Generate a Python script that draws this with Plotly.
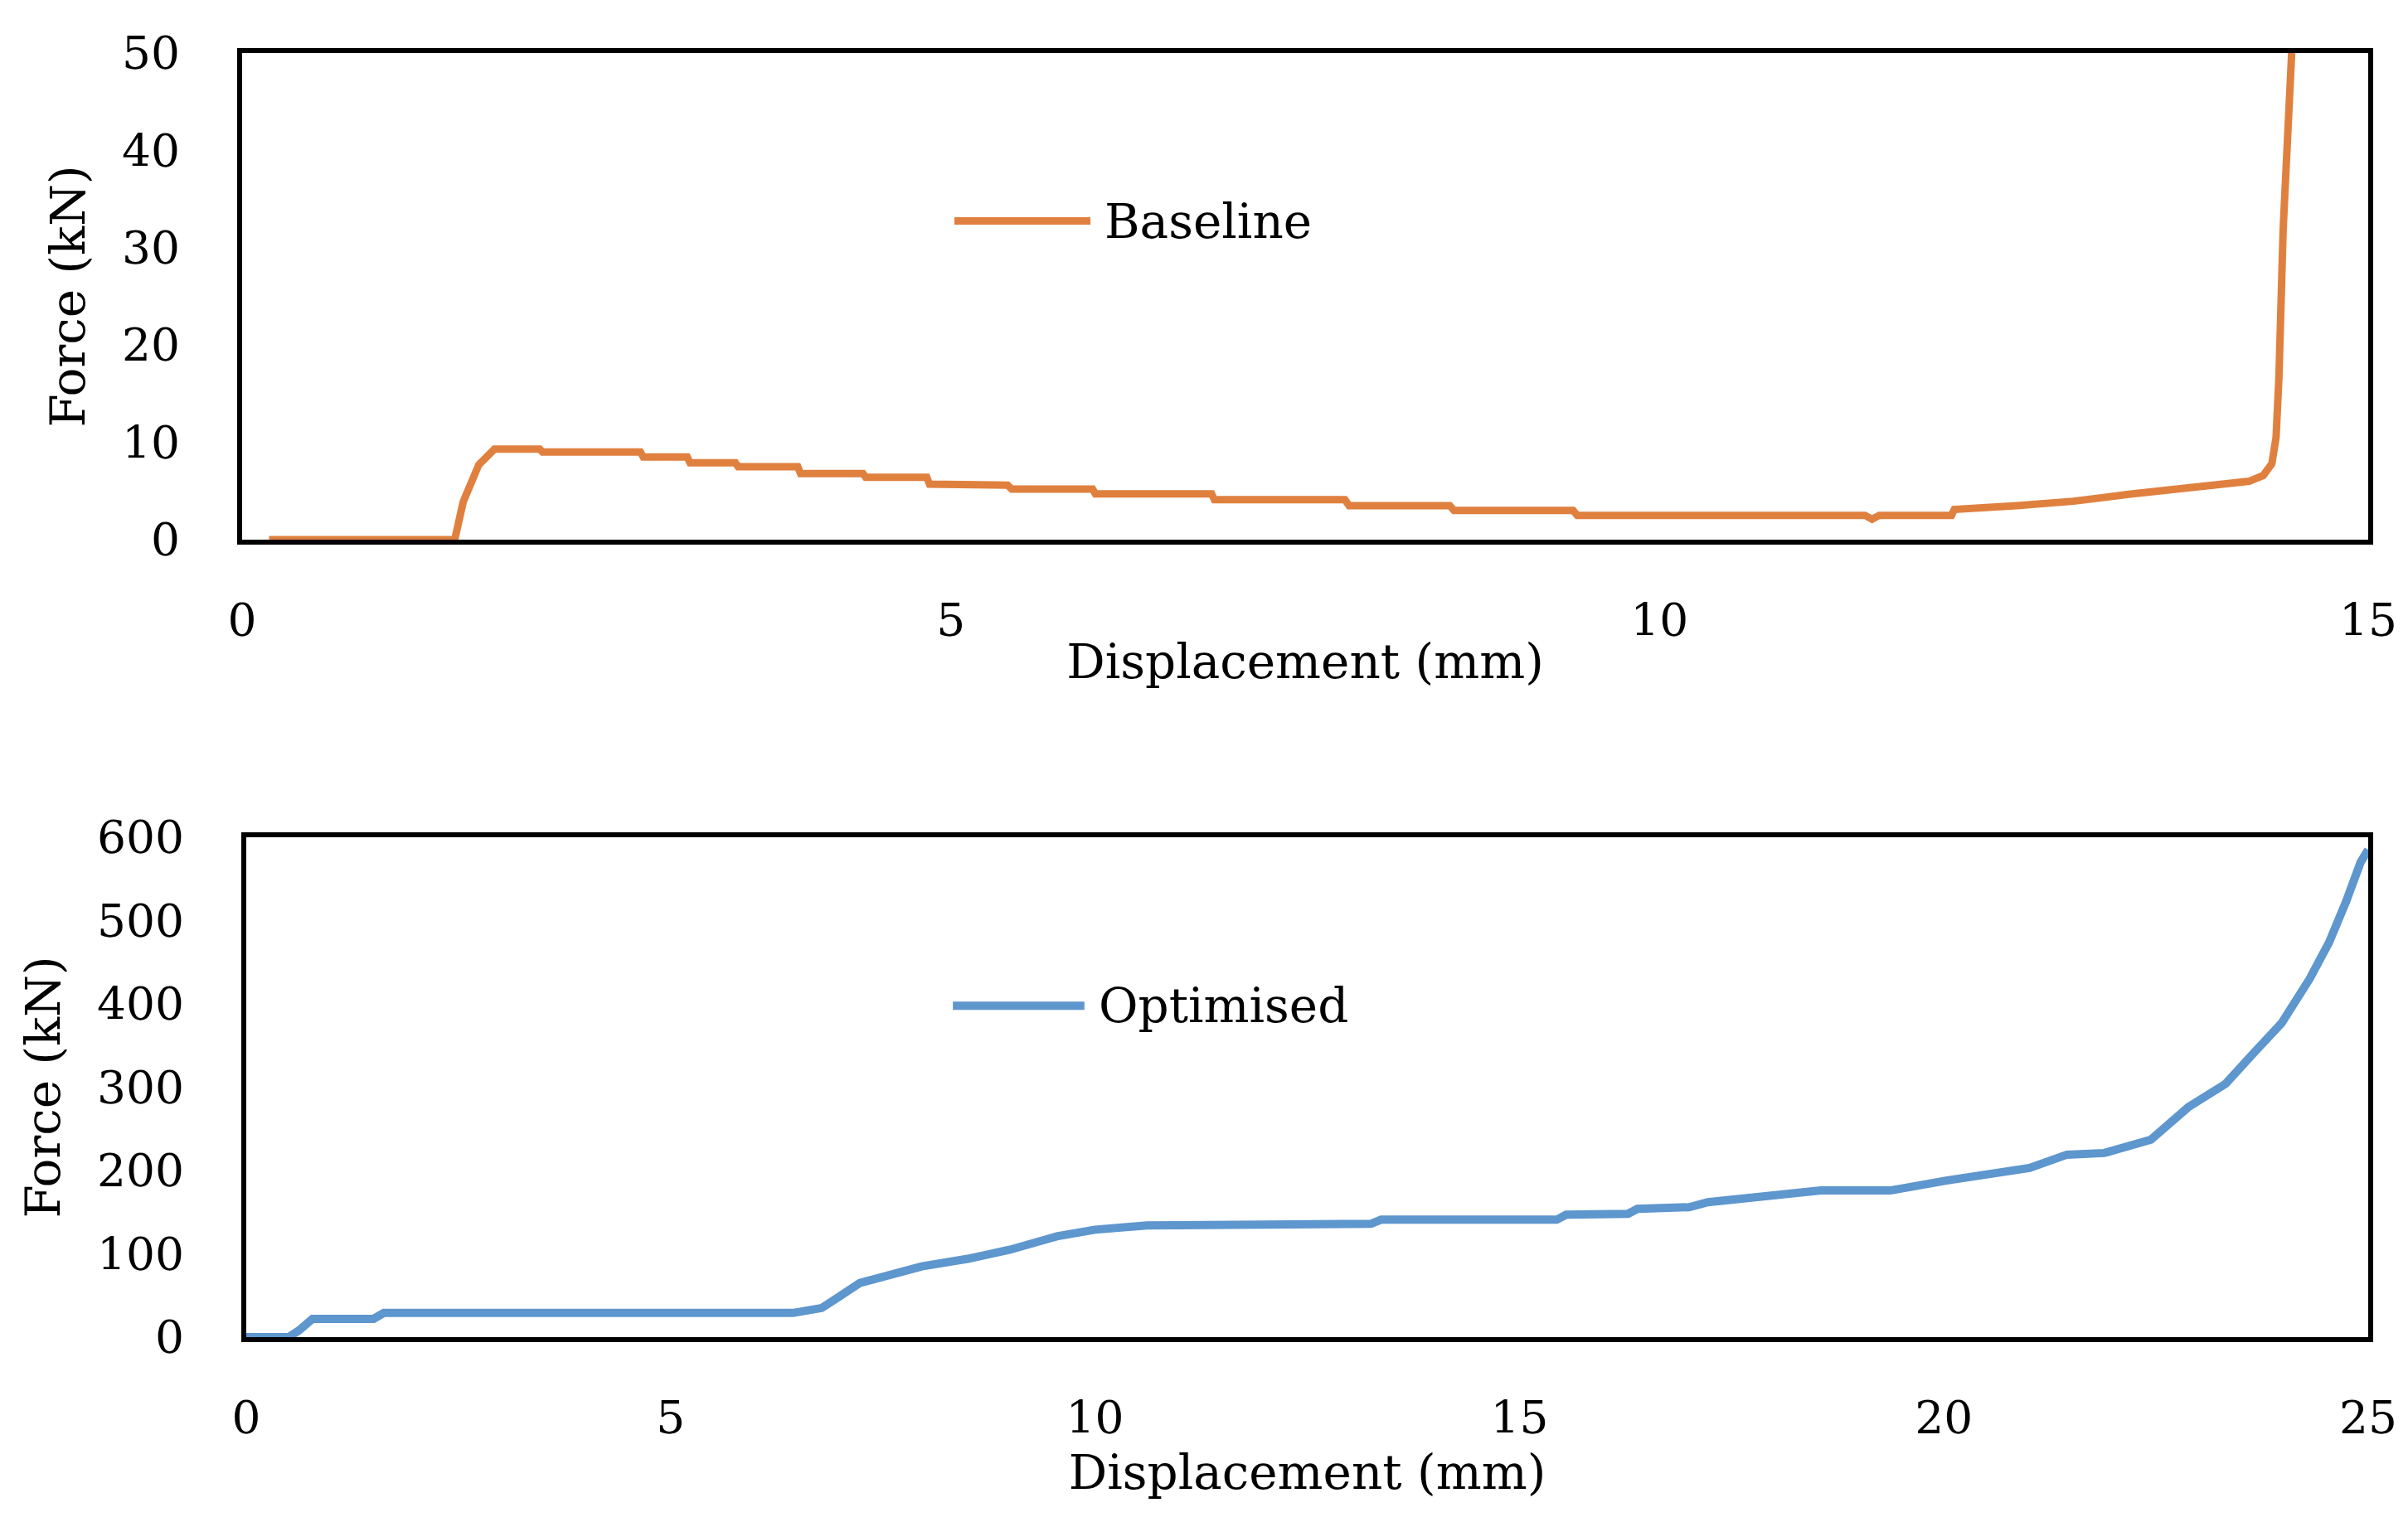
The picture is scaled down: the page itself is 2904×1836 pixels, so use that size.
import plotly.graph_objects as go

# ---- data ----
baseline_x = [0.19, 1.50, 1.56, 1.67, 1.78, 2.10, 2.12, 2.81, 2.83, 3.14, 3.16, 3.48, 3.50, 3.92,
              3.94, 4.38, 4.40, 4.83, 4.85, 5.40, 5.43, 6.00, 6.02, 6.84, 6.86, 7.78, 7.81, 8.52,
              8.55, 9.39, 9.42, 11.45, 11.50, 11.55, 12.06, 12.08, 12.52, 12.92, 13.31, 13.73,
              14.16, 14.26, 14.32, 14.35, 14.37, 14.40, 14.44, 14.46]
baseline_y = [0.0, 0.0, 3.9, 7.7, 9.3, 9.3, 9.0, 9.0, 8.5, 8.5, 7.9, 7.9, 7.5, 7.5,
              6.8, 6.8, 6.4, 6.4, 5.7, 5.6, 5.2, 5.2, 4.7, 4.7, 4.1, 4.1, 3.5, 3.5,
              3.0, 3.0, 2.5, 2.5, 2.1, 2.5, 2.5, 3.1, 3.5, 3.95, 4.66, 5.37,
              6.0, 6.6, 7.8, 10.5, 16.6, 31.9, 45.0, 50.0]

optimised_x = [0.0, 0.50, 0.62, 0.78, 1.50, 1.62, 6.44, 6.78, 7.23, 7.96, 8.50, 9.00, 9.55, 10.00,
               10.61, 13.25, 13.37, 15.44, 15.55, 16.28, 16.39, 16.74, 17.00, 17.22, 17.56, 18.55,
               19.37, 20.03, 21.01, 21.45, 21.89, 22.44, 22.88, 23.32, 23.65, 23.98, 24.31, 24.54,
               24.74, 24.91, 25.00]
optimised_y = [0, 0, 8, 22, 22, 29, 29, 35, 65, 85, 94, 105, 121, 129,
               134, 136, 141, 141, 147, 148, 154, 154, 156, 162, 166, 176,
               176, 188, 203, 219, 221, 237, 276, 304, 341, 377, 430, 474,
               523, 570, 585]

series_names = ["Baseline", "Optimised"]
x_title = "Displacement (mm)"
y_title = "Force (kN)"

orange = "#E0803F"
blue = "#5E96CE"
FONT = "DejaVu Serif"

fig = go.Figure()
fig.add_trace(go.Scatter(x=baseline_x, y=baseline_y, mode="lines", name=series_names[0],
                         line=dict(color=orange, width=9), xaxis="x", yaxis="y",
                         showlegend=False, cliponaxis=True))
fig.add_trace(go.Scatter(x=optimised_x, y=optimised_y, mode="lines", name=series_names[1],
                         line=dict(color=blue, width=10), xaxis="x2", yaxis="y2",
                         showlegend=False, cliponaxis=True))

W, H = 2904, 1836
# plot frames (pixels)
top_box = dict(l=284, r=2848, t=56, b=643)
bot_box = dict(l=289, r=2848, t=1002, b=1605)

def xdom(b):
    return [b["l"] / W, b["r"] / W]

def ydom(b):
    return [1 - b["b"] / H, 1 - b["t"] / H]

tickfont = dict(family=FONT, size=55, color="black")
titlefont = dict(family=FONT, size=58, color="black")

common_axis = dict(showline=True, linecolor="black", linewidth=6, mirror=True,
                   showgrid=False, zeroline=False, ticks="", tickfont=tickfont,
                   automargin=False)

fig.update_layout(
    template="none",
    width=W, height=H,
    margin=dict(l=0, r=0, t=0, b=0, autoexpand=False),
    paper_bgcolor="white", plot_bgcolor="white",
    showlegend=False,
    xaxis=dict(domain=xdom(top_box), range=[0, 15], dtick=5, anchor="y",
               title=dict(text=x_title, font=titlefont, standoff=0),
               ticklabelstandoff=44, **common_axis),
    yaxis=dict(domain=ydom(top_box), range=[0, 50], dtick=10, anchor="x",
               title=dict(text=y_title, font=titlefont, standoff=28),
               ticklabelstandoff=58, **common_axis),
    xaxis2=dict(domain=xdom(bot_box), range=[0, 25], dtick=5, anchor="y2",
                title=dict(text=x_title, font=titlefont, standoff=0),
                ticklabelstandoff=44, **common_axis),
    yaxis2=dict(domain=ydom(bot_box), range=[0, 600], dtick=100, anchor="x2",
                title=dict(text=y_title, font=titlefont, standoff=28),
                ticklabelstandoff=58, **common_axis),
)

# manual legend entries (line sample + label) placed inside each plot
legend_specs = [
    dict(xr="x domain", yr="y domain", x0=0.335, x1=0.399, y=0.655, tx=0.405,
         color=orange, width=9, text=series_names[0]),
    dict(xr="x2 domain", yr="y2 domain", x0=0.333, x1=0.395, y=0.663, tx=0.401,
         color=blue, width=10, text=series_names[1]),
]
for s in legend_specs:
    fig.add_shape(type="line", xref=s["xr"], yref=s["yr"], x0=s["x0"], x1=s["x1"],
                  y0=s["y"], y1=s["y"], line=dict(color=s["color"], width=s["width"]))
    fig.add_annotation(xref=s["xr"], yref=s["yr"], x=s["tx"], y=s["y"], text=s["text"],
                       showarrow=False, xanchor="left", yanchor="middle",
                       font=dict(family=FONT, size=58, color="black"))

fig.write_html("out.html")
